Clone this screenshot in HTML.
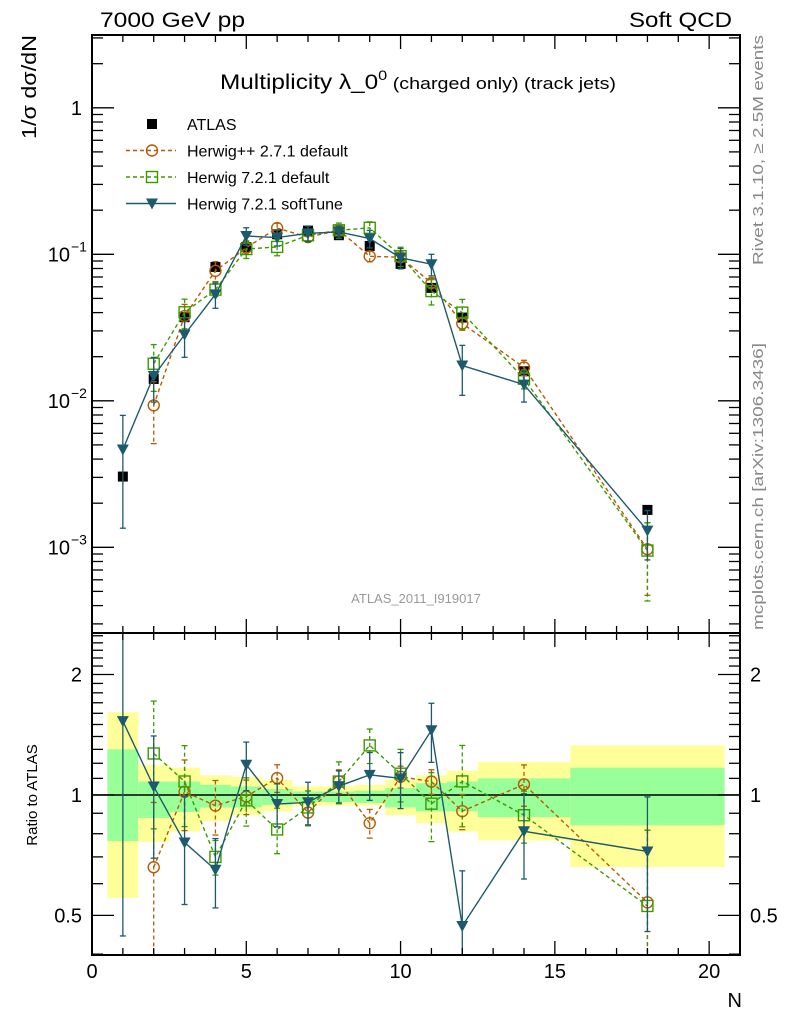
<!DOCTYPE html>
<html><head><meta charset="utf-8"><style>
html,body{margin:0;padding:0;background:#fff;}
svg{display:block;font-family:"Liberation Sans",sans-serif;}
</style></head><body>
<svg id="chart" width="786" height="1024" viewBox="0 0 786 1024" xmlns="http://www.w3.org/2000/svg">
<text x="100" y="27" font-size="21" textLength="145" lengthAdjust="spacingAndGlyphs">7000 GeV pp</text>
<text x="732" y="27" font-size="21" text-anchor="end" textLength="103" lengthAdjust="spacingAndGlyphs">Soft QCD</text>
<text x="220" y="89" font-size="21" textLength="396" lengthAdjust="spacingAndGlyphs">Multiplicity λ_0<tspan dy="-9" font-size="14">0</tspan><tspan dy="9" font-size="17"> (charged only) (track jets)</tspan></text>
<text transform="translate(36,35) rotate(-90)" font-size="20" text-anchor="end" textLength="104" lengthAdjust="spacingAndGlyphs">1/σ dσ/dN</text>
<text transform="translate(37,795) rotate(-90)" font-size="15" text-anchor="middle">Ratio to ATLAS</text>
<text x="742" y="1007" font-size="20" text-anchor="end">N</text>
<text transform="translate(763,265) rotate(-90)" font-size="15" fill="#888" textLength="230" lengthAdjust="spacingAndGlyphs">Rivet 3.1.10, ≥ 2.5M events</text>
<text transform="translate(763,630) rotate(-90)" font-size="15" fill="#888" textLength="287" lengthAdjust="spacingAndGlyphs">mcplots.cern.ch [arXiv:1306.3436]</text>
<text x="416" y="603" font-size="13" fill="#999" text-anchor="middle">ATLAS_2011_I919017</text>
<g id="bands"></g>
<g id="marks"></g>
<g id="axes"></g>
<g id="legend"></g>
</svg>
<script>
const xs = [1,2,3,4,5,6,7,8,9,10,11,12,14,18];
const binLo = [0.5,1.5,2.5,3.5,4.5,5.5,6.5,7.5,8.5,9.5,10.5,11.5,12.5,15.5];
const binHi = [1.5,2.5,3.5,4.5,5.5,6.5,7.5,8.5,9.5,10.5,11.5,12.5,15.5,20.5];
const atlas = [0.00304,0.0141,0.0372,0.082,0.112,0.137,0.145,0.135,0.114,0.086,0.059,0.037,0.0159,0.0018];
const bandTotUp = [1.61,1.19,1.17,1.12,1.11,1.09,1.05,1.05,1.06,1.09,1.12,1.15,1.21,1.33];
const bandTotDn = [0.553,0.763,0.81,0.86,0.89,0.91,0.94,0.94,0.94,0.89,0.85,0.81,0.77,0.66];
const bandStatUp = [1.30,1.08,1.08,1.06,1.05,1.035,1.02,1.02,1.025,1.04,1.07,1.08,1.10,1.17];
const bandStatDn = [0.767,0.876,0.906,0.93,0.93,0.945,0.96,0.96,0.955,0.93,0.91,0.91,0.88,0.84];
const hppX = [2,3,4,5,6,7,8,9,10,11,12,14,18];
const hppVal = [0.0093,0.0379,0.0771,0.111,0.151,0.131,0.146,0.0969,0.0955,0.0637,0.0337,0.0169,0.00097];
const hppErr = [0.0042,0.0076,0.012,0.011,0.012,0.009,0.010,0.008,0.006,0.0045,0.0034,0.002,0.0005];
const h72X = [2,3,4,5,6,7,8,9,10,11,12,14,18];
const h72Val = [0.0179,0.0402,0.0574,0.1086,0.1123,0.1349,0.1458,0.1516,0.0972,0.0561,0.040,0.01415,0.00095];
const h72Err = [0.0063,0.0092,0.0057,0.015,0.0146,0.0135,0.0175,0.015,0.0146,0.011,0.0092,0.0021,0.00052];
const softX = [1,2,3,4,5,6,7,8,9,10,11,12,14,18];
const softVal = [0.00465,0.0148,0.0283,0.0533,0.1333,0.130,0.139,0.142,0.128,0.0946,0.0856,0.0174,0.0129,0.0013];
const softErr = [0.0033,0.005,0.0085,0.0105,0.0185,0.016,0.017,0.013,0.0175,0.0151,0.0144,0.0065,0.0031,0.00048];
const xTicks = [0,5,10,15,20];
const yTickLabels = ["10","10","10","1"];

const NS="http://www.w3.org/2000/svg";
const L=92,R=740,T1=35,B1=633,T2=633,B2=955;
const xMin=0,xMax=21;
const yMinLog=Math.log10(2.6e-4), yMaxLog=Math.log10(3.14);
const rMinLog=Math.log10(0.398), rMaxLog=Math.log10(2.54);
function X(v){return L+(v-xMin)/(xMax-xMin)*(R-L);}
function Y(v){return B1-(Math.log10(v)-yMinLog)/(yMaxLog-yMinLog)*(B1-T1);}
function YR(v){const l=Math.log10(Math.max(v,1e-3));return B2-(l-rMinLog)/(rMaxLog-rMinLog)*(B2-T2);}
function mk(tag,attrs,parent){const e=document.createElementNS(NS,tag);for(const k in attrs)e.setAttribute(k,attrs[k]);parent.appendChild(e);return e;}
const bands=document.getElementById('bands'),marks=document.getElementById('marks'),axes=document.getElementById('axes'),leg=document.getElementById('legend');

// ratio bands
for(let i=0;i<xs.length;i++){
  let r=mk('rect',{x:X(binLo[i]),y:YR(bandTotUp[i]),width:X(binHi[i])-X(binLo[i]),height:YR(bandTotDn[i])-YR(bandTotUp[i]),fill:'#ffff99'},bands);
  
  
  let g=mk('rect',{x:X(binLo[i]),y:YR(bandStatUp[i]),width:X(binHi[i])-X(binLo[i]),height:YR(bandStatDn[i])-YR(bandStatUp[i]),fill:'#99ff99'},bands);
  
  
}
let one=mk('line',{x1:L,x2:R,y1:YR(1),y2:YR(1),stroke:'#000','stroke-width':1.5},bands);



function clipY(y,top,bot){return Math.max(top,Math.min(bot,y));}
function marker(type,cx,cy,color,g){
  let m;
  if(type==='circle') m=mk('circle',{cx:cx,cy:cy,r:5.5,fill:'none',stroke:color,'stroke-width':1.4},g);
  else if(type==='square') m=mk('rect',{x:cx-5.5,y:cy-5.5,width:11,height:11,fill:'none',stroke:color,'stroke-width':1.4},g);
  else if(type==='tri') m=mk('polygon',{points:`${cx-6},${cy-5} ${cx+6},${cy-5} ${cx},${cy+6}`,fill:color},g);
  else m=mk('rect',{x:cx-5,y:cy-5,width:10,height:10,fill:color},g);
  return m;
}
function drawSeries(name,px,val,err,color,dash,type){
  const g=mk('g',{},marks);
  
  
  const pts=[],rpts=[];
  px.forEach((x,i)=>{
    const k=xs.indexOf(x);
    pts.push([X(x),Y(val[i])]);
    rpts.push([X(x),YR(val[i]/atlas[k])]);
  });
  mk('polyline',{points:pts.map(p=>p.join(',')).join(' '),fill:'none',stroke:color,'stroke-width':1.4,'stroke-dasharray':dash},g);
  mk('polyline',{points:rpts.map(p=>p.join(',')).join(' '),fill:'none',stroke:color,'stroke-width':1.4,'stroke-dasharray':dash},g);
  px.forEach((x,i)=>{
    const k=xs.indexOf(x);
    const lo=Math.max(val[i]-err[i],1e-6),hi=val[i]+err[i];
    const cx=X(x);
    const y1=clipY(Y(hi),T1,B1),y2=clipY(Y(lo),T1,B1);
    mk('line',{x1:cx,x2:cx,y1:y1,y2:y2,stroke:color,'stroke-width':1.3,'stroke-dasharray':dash},g);
    mk('line',{x1:cx-3,x2:cx+3,y1:y1,y2:y1,stroke:color,'stroke-width':1.3},g);
    if(Y(lo)<B1) mk('line',{x1:cx-3,x2:cx+3,y1:y2,y2:y2,stroke:color,'stroke-width':1.3},g);
    const r1=clipY(YR(hi/atlas[k]),T2,B2),r2=clipY(YR(lo/atlas[k]),T2,B2);
    mk('line',{x1:cx,x2:cx,y1:r1,y2:r2,stroke:color,'stroke-width':1.3,'stroke-dasharray':dash},g);
    if(r1>T2) mk('line',{x1:cx-3,x2:cx+3,y1:r1,y2:r1,stroke:color,'stroke-width':1.3},g);
    if(r2<B2) mk('line',{x1:cx-3,x2:cx+3,y1:r2,y2:r2,stroke:color,'stroke-width':1.3},g);
    const m=marker(type,cx,Y(val[i]),color,g);
    
    
    const m2=marker(type,cx,YR(val[i]/atlas[k]),color,g);
    
    
  });
}
// ATLAS data
const ga=mk('g',{},marks);


xs.forEach((x,i)=>{
  const m=marker('sq',X(x),Y(atlas[i]),'#000',ga);
  
  
});
drawSeries('herwigpp-271',hppX,hppVal,hppErr,'#b85a00','4,3','circle');
drawSeries('herwig-721-default',h72X,h72Val,h72Err,'#3c9a00','4,3','square');
drawSeries('herwig-721-softtune',softX,softVal,softErr,'#1e5a6e','','tri');

// frames
[[T1,B1],[T2,B2]].forEach(([t,b],j)=>{
  const f=mk('rect',{x:L,y:t,width:R-L,height:b-t,fill:'none',stroke:'#000','stroke-width':2},axes);
  
  
  for(let v=0;v<=21;v++){
    const len=(v%5===0)?14:7;
    mk('line',{x1:X(v),x2:X(v),y1:b,y2:b-len,stroke:'#000','stroke-width':1.3},axes);
    mk('line',{x1:X(v),x2:X(v),y1:t,y2:t+len,stroke:'#000','stroke-width':1.3},axes);
  }
});
xTicks.forEach(v=>{
  const t=mk('text',{x:X(v),y:978,'font-size':20,'text-anchor':'middle'},axes);
  t.textContent=v;
  
  
});
// main y ticks
for(let d=-4;d<=0;d++){
  for(let m=1;m<=9;m++){
    const v=m*Math.pow(10,d);const y=Y(v);
    if(y<T1||y>B1)continue;
    const len=m===1?22:11;
    mk('line',{x1:L,x2:L+len,y1:y,y2:y,stroke:'#000','stroke-width':1.3},axes);
    mk('line',{x1:R,x2:R-len,y1:y,y2:y,stroke:'#000','stroke-width':1.3},axes);
  }
}
[-3,-2,-1,0].forEach((d,i)=>{
  const y=Y(Math.pow(10,d));
  const t=mk('text',{x:d===0?82:70,y:y+7,'font-size':20,'text-anchor':'end'},axes);
  t.textContent=yTickLabels[i];
  
  
  if(d<0){const s=mk('text',{x:71,y:y-3,'font-size':14},axes);s.textContent='\u2212'+(-d);}
});
// ratio y ticks
for(let v=0.4;v<=2.51;v+=0.1){
  const y=YR(v);const big=Math.abs(v-0.5)<1e-6||Math.abs(v-1)<1e-6||Math.abs(v-2)<1e-6;
  const len=big?22:11;
  mk('line',{x1:L,x2:L+len,y1:y,y2:y,stroke:'#000','stroke-width':1.3},axes);
  mk('line',{x1:R,x2:R-len,y1:y,y2:y,stroke:'#000','stroke-width':1.3},axes);
}
[[0.5,'0.5'],[1,'1'],[2,'2']].forEach(([v,s])=>{
  const a=mk('text',{x:82,y:YR(v)+7,'font-size':20,'text-anchor':'end'},axes);a.textContent=s;
  
  
  const b=mk('text',{x:750,y:YR(v)+7,'font-size':20},axes);b.textContent=s;
  
  
});
// legend
const entries=[['ATLAS','#000','','sq'],['Herwig++ 2.7.1 default','#b85a00','4,3','circle'],['Herwig 7.2.1 default','#3c9a00','4,3','square'],['Herwig 7.2.1 softTune','#1e5a6e','','tri']];
entries.forEach((e,i)=>{
  const y=124+i*26.5;
  const g=mk('g',{},leg);
  
  
  if(i>0) mk('line',{x1:126,x2:176,y1:y,y2:y,stroke:e[1],'stroke-width':1.4,'stroke-dasharray':e[2]},g);
  marker(e[3],152,y,e[1],g);
  const t=mk('text',{x:187,y:y+6,'font-size':16},g);t.textContent=e[0];
});
</script>
</body></html>
